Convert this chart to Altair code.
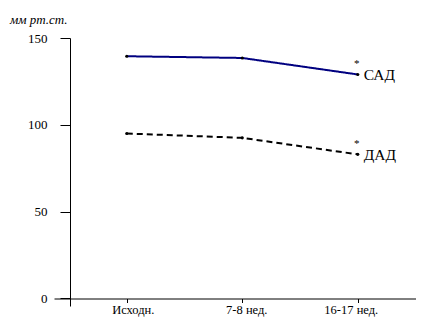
import altair as alt
import pandas as pd

categories = ["Исходн.", "7-8 нед.", "16-17 нед."]
sad = [139.5, 138.5, 129]
dad = [95, 92.5, 83]
series_names = ["САД", "ДАД"]

rows = []
for name, vals in zip(series_names, [sad, dad]):
    for i, v in enumerate(vals):
        rows.append({"series": name, "idx": i + 1, "cat": categories[i], "value": v})
df = pd.DataFrame(rows)
last = df[df["idx"] == len(categories)]

label_expr = "[" + ",".join("'" + c + "'" for c in categories) + "][datum.value-1]"
SERIF = "Liberation Serif"

x = alt.X("idx:Q", scale=alt.Scale(domain=[0.37, 3.504], nice=False, zero=False),
          axis=alt.Axis(values=[1, 2, 3], labelExpr=label_expr, title=None, grid=False,
                        offset=-7.5, tickSize=4, labelPadding=1, labelFont=SERIF,
                        labelFontSize=12.5, labelColor="black", domainColor="black",
                        tickColor="black", labelFlush=False,
                        labelOffset={"condition": [{"test": "datum.value == 1", "value": 6},
                                                   {"test": "datum.value == 3", "value": -7}],
                                     "value": 4}))
y = alt.Y("value:Q", scale=alt.Scale(domain=[-4.32, 150], nice=False, zero=False),
          axis=alt.Axis(values=[0, 50, 100, 150], title=None, grid=False, offset=-16,
                        tickSize=10, labelPadding=13, labelFont=SERIF,
                        labelFontSize=13, labelColor="black", domainColor="black",
                        tickColor="black"))

color = alt.Color("series:N", scale=alt.Scale(domain=series_names, range=["#000080", "black"]),
                  legend=None)
dash = alt.StrokeDash("series:N", scale=alt.Scale(domain=series_names, range=[[1, 0], [6, 4]]),
                      legend=None)

base = alt.Chart(df)
lines = base.mark_line(strokeWidth=2).encode(x=x, y=y, color=color, strokeDash=dash,
                                             detail="series:N")
points = base.mark_circle(size=10, color="black", opacity=1).encode(x="idx:Q", y="value:Q")
labels = alt.Chart(last).mark_text(align="left", baseline="middle", dx=6, dy=1,
                                   font=SERIF, fontSize=15.5, color="black").encode(
    x="idx:Q", y="value:Q", text="series:N")
stars = alt.Chart(last).mark_text(align="center", baseline="middle", dx=-1, dy=-10,
                                  font=SERIF, fontSize=11, color="black").encode(
    x="idx:Q", y="value:Q", text=alt.value("*"))

chart = alt.layer(lines, points, labels, stars).properties(
    width=362, height=268,
    autosize=alt.AutoSizeParams(type="none"),
    padding={"left": 46, "top": 30, "right": 0, "bottom": 12},
    title=alt.TitleParams("мм рт.ст.", anchor="start", frame="group", dx=-44, offset=5,
                          font=SERIF, fontSize=13, fontStyle="italic",
                          fontWeight="normal", color="black"),
).configure_view(stroke=None)

chart.save("out.html", embed_options={"renderer": "svg", "actions": False})
